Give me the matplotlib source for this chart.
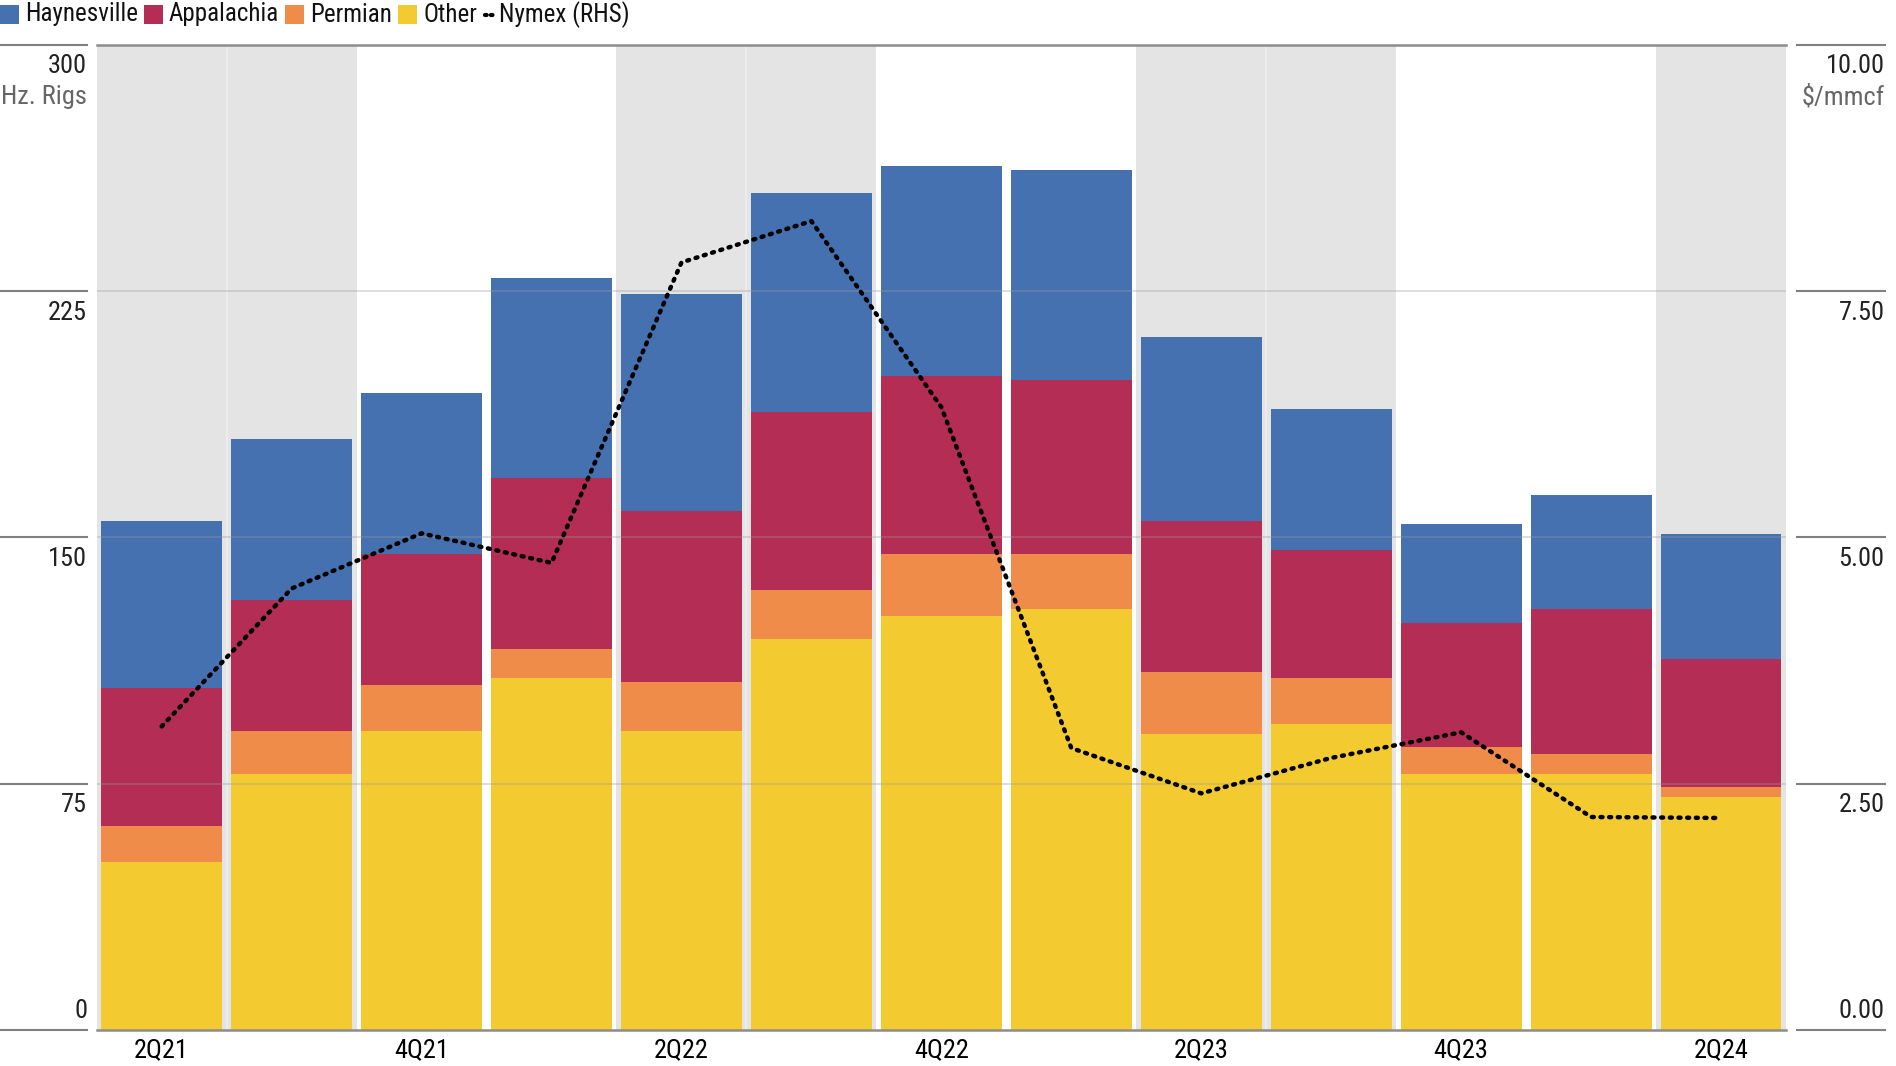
import matplotlib

matplotlib.use("Agg")
import matplotlib.pyplot as plt
from matplotlib import font_manager
from matplotlib.patches import Rectangle
from matplotlib.lines import Line2D
import matplotlib.transforms as mtransforms
import numpy as np

quarters = ["2Q21", "3Q21", "4Q21", "1Q22", "2Q22", "3Q22", "4Q22",
            "1Q23", "2Q23", "3Q23", "4Q23", "1Q24", "2Q24"]
other = [51, 78, 91, 107, 91, 119, 126, 128, 90, 93, 78, 78, 71]
permian = [11, 13, 14, 9, 15, 15, 19, 17, 19, 14, 8, 6, 3]
appalachia = [42, 40, 40, 52, 52, 54, 54, 53, 46, 39, 38, 44, 39]
haynesville = [51, 49, 49, 61, 66, 67, 64, 64, 56, 43, 30, 35, 38]
nymex = [3.08, 4.48, 5.04, 4.74, 7.79, 8.21, 6.32, 2.86, 2.40, 2.76, 3.02, 2.16, 2.15]
shaded = [0, 1, 4, 5, 8, 9, 12]
left_ticks = [0, 75, 150, 225, 300]
right_labels = ["0.00", "2.50", "5.00", "7.50", "10.00"]

names = {f.name for f in font_manager.fontManager.ttflist}
for fam in ["Roboto Condensed", "Liberation Sans Narrow", "DejaVu Sans"]:
    if fam in names:
        break
plt.rcParams["font.family"] = [fam, "DejaVu Sans"]
plt.rcParams["font.stretch"] = "condensed"

C_HAY = "#4571b0"
C_APP = "#b32d55"
C_PER = "#ef8c4a"
C_OTH = "#f3cb30"
FS = 19
DOTS = (0, (0.45, 1.5))

fig = plt.figure(figsize=(18.96, 10.66), dpi=100)
ax = fig.add_axes([0.051, 0.034, 0.891, 0.924])
x = np.arange(len(quarters))

for i in shaded:
    ax.axvspan(i - 0.5, i + 0.5, color="#e4e4e4", lw=0, zorder=0)
for i in shaded:
    if i + 1 in shaded:
        ax.axvline(i + 0.5, color="#ececec", lw=1.5, zorder=0.5)

w = 0.93
b = np.zeros(len(x))
for vals, c in [(other, C_OTH), (permian, C_PER), (appalachia, C_APP), (haynesville, C_HAY)]:
    ax.bar(x, vals, w, bottom=b, color=c, zorder=2, lw=0)
    b += np.array(vals)

for v in left_ticks[1:-1]:
    ax.axhline(v, color="#999999", alpha=0.35, lw=1.3, zorder=3)
ax.axhline(300, color="#8c8c8c", lw=1.8, zorder=3, clip_on=False)
ax.axhline(0, color="#8c8c8c", lw=1.8, zorder=3, clip_on=False)

ax.set_xlim(-0.5, len(x) - 0.5)
ax.set_ylim(0, 300)
for s in ax.spines.values():
    s.set_visible(False)
ax.set_yticks([])
ax.set_xticks(x[::2])
ax.set_xticklabels(quarters[::2], fontsize=FS)
ax.tick_params(axis="x", length=0, pad=6)

ax2 = ax.twinx()
ax2.set_ylim(0, 10)
ax2.plot(x, nymex, color="black", lw=3.2, ls=DOTS, dash_capstyle="round", zorder=5)
ax2.set_yticks([])
for s in ax2.spines.values():
    s.set_visible(False)

# outer tick lines and labels
tr = mtransforms.blended_transform_factory(fig.transFigure, ax.transData)
for v, rl in zip(left_ticks, right_labels):
    col = "#808080"
    fig.add_artist(Line2D([0, 0.046], [v, v], transform=tr, color=col, lw=1.5))
    fig.add_artist(Line2D([0.948, 0.994], [v, v], transform=tr, color=col, lw=1.5))
    off = 5 if v == 0 else -7
    va = "bottom" if v == 0 else "top"
    ax.annotate(str(v), xy=(0.046, v), xycoords=tr, xytext=(0, off), textcoords="offset points",
                ha="right", va=va, fontsize=FS, color="#222222")
    ax.annotate(rl, xy=(0.994, v), xycoords=tr, xytext=(0, off), textcoords="offset points",
                ha="right", va=va, fontsize=FS, color="#222222")
ax.annotate("Hz. Rigs", xy=(0.046, 300), xycoords=tr, xytext=(0, -29), textcoords="offset points",
            ha="right", va="top", fontsize=FS, color="#666666")
ax.annotate("$/mmcf", xy=(0.994, 300), xycoords=tr, xytext=(0, -29), textcoords="offset points",
            ha="right", va="top", fontsize=FS, color="#666666")

# legend row
fig.canvas.draw()
r = fig.canvas.get_renderer()
W, H = fig.get_size_inches() * fig.dpi
cx = 0.0
yc = 1 - 14.5 / H
sq = 19 / W
sqh = 19 / H
items = [("Haynesville", C_HAY), ("Appalachia", C_APP), ("Permian", C_PER), ("Other", C_OTH), ("Nymex (RHS)", None)]
for lab, c in items:
    if c is not None:
        fig.add_artist(Rectangle((cx, yc - sqh / 2), sq, sqh, transform=fig.transFigure, color=c, lw=0))
        cx += sq + 6 / W
    else:
        fig.add_artist(Line2D([cx + 2 / W, cx + 10 / W], [yc, yc], transform=fig.transFigure,
                              color="black", lw=3, ls=(0, (0.4, 1.0)), dash_capstyle="round"))
        cx += 16 / W
    t = fig.text(cx, yc, lab, fontsize=18, ha="left", va="center", color="#111111")
    bb = t.get_window_extent(renderer=r)
    cx += bb.width / W + 6 / W

fig.savefig("out.png", dpi=100)
